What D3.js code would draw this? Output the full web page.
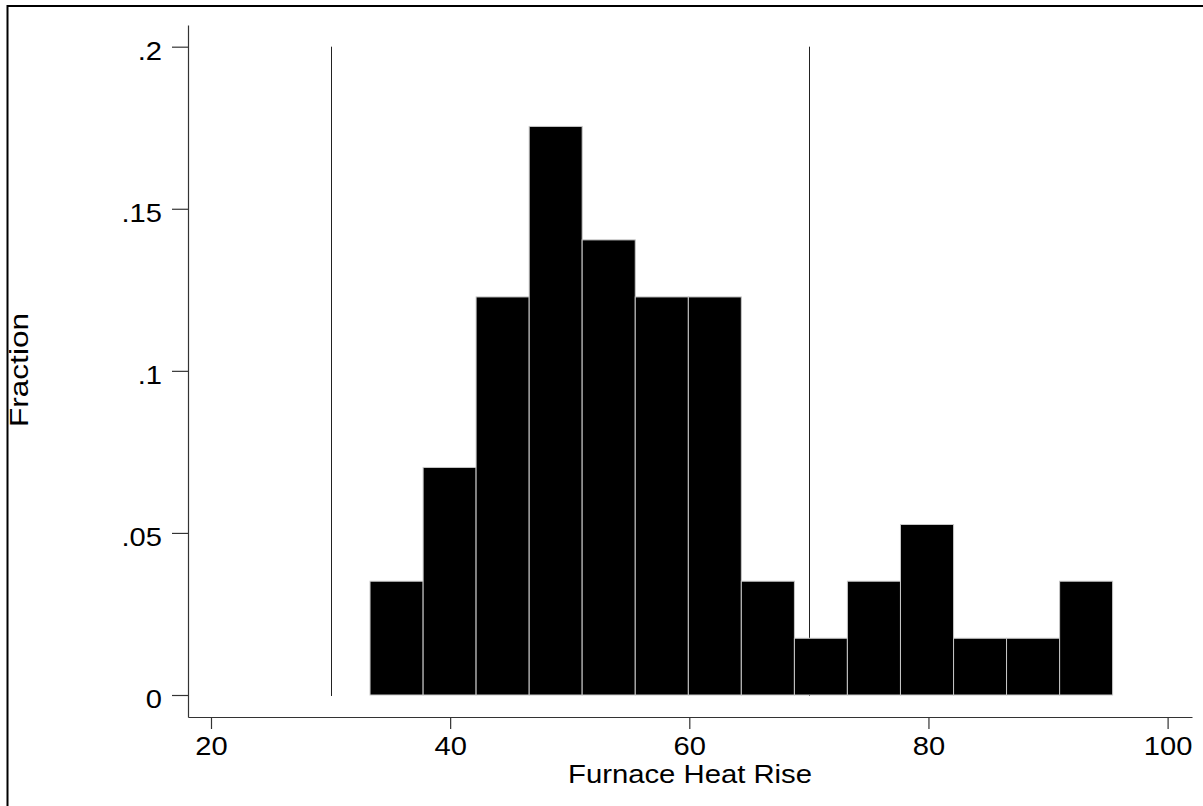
<!DOCTYPE html>
<html>
<head>
<meta charset="utf-8">
<script src="https://cdn.jsdelivr.net/npm/d3@7"></script>
<style>
  html, body { margin: 0; padding: 0; background: #fff; }
  svg { display: block; }
  text { font-family: "Liberation Sans", Arial, Helvetica, sans-serif; fill: #000; }
</style>
</head>
<body>
<svg id="chart" width="1203" height="806"></svg>
<script>
// ---- data ----
const binEdges = [33.3, 37.74, 42.17, 46.61, 51.04, 55.48, 59.92, 64.35, 68.79, 73.22, 77.66, 82.1, 86.53, 90.97, 95.4];
const fractions = [0.0351, 0.0702, 0.1228, 0.1754, 0.1404, 0.1228, 0.1228, 0.0351, 0.0175, 0.0351, 0.0526, 0.0175, 0.0175, 0.0351];
const refLines = [30, 70];
const xTicks = [20, 40, 60, 80, 100];
const yTicks = [0, 0.05, 0.1, 0.15, 0.2];
const yTickLabels = ["0", ".05", ".1", ".15", ".2"];
const xTitle = "Furnace Heat Rise";
const yTitle = "Fraction";

// ---- layout ----
const svg = d3.select("#chart");
const W = 1203, H = 806;
const xs = d3.scaleLinear().domain([18.077, 102.04]).range([188, 1192]);
const ys = d3.scaleLinear().domain([-0.006787, 0.20669]).range([717, 25]);
const FS = 26, STRETCH = 1.12;

// outer frame (partly off-canvas right/bottom)
svg.append("rect").attr("x", 7.5).attr("y", 6).attr("width", 1300).attr("height", 900)
  .attr("fill", "none").attr("stroke", "#000").attr("stroke-width", 2);

// reference lines (behind bars)
svg.append("g").selectAll("line").data(refLines).join("line")
  .attr("x1", d => Math.round(xs(d)) + 0.5).attr("x2", d => Math.round(xs(d)) + 0.5)
  .attr("y1", ys(0.2)).attr("y2", ys(0) + 1)
  .attr("stroke", "#222").attr("stroke-width", 1);

// bars
const bins = fractions.map((f, i) => ({ x0: binEdges[i], x1: binEdges[i + 1], f }));
svg.append("g").selectAll("rect").data(bins).join("rect")
  .attr("x", d => xs(d.x0)).attr("width", d => xs(d.x1) - xs(d.x0))
  .attr("y", d => ys(d.f)).attr("height", d => ys(0) - ys(d.f))
  .attr("fill", "#000").attr("stroke", "#c8c8c8").attr("stroke-width", 1);

// axes
const xAxis = d3.axisBottom(xs).tickValues(xTicks).tickFormat(d3.format("d"))
  .tickSizeInner(12).tickSizeOuter(0).tickPadding(8);
const yAxis = d3.axisLeft(ys).tickValues(yTicks).tickFormat((d, i) => yTickLabels[i])
  .tickSizeInner(16).tickSizeOuter(0).tickPadding(10);

const gx = svg.append("g").attr("transform", "translate(0,717)").call(xAxis);
const gy = svg.append("g").attr("transform", "translate(188,0)").call(yAxis);

[gx, gy].forEach(g => {
  g.select(".domain").attr("stroke", "#333").attr("stroke-width", 1.2);
  g.selectAll(".tick line").attr("stroke", "#333").attr("stroke-width", 1.2);
  g.selectAll(".tick text").attr("font-size", FS)
    .attr("font-family", "'Liberation Sans', Arial, sans-serif").attr("fill", "#000");
});
gy.selectAll(".tick text").attr("dy", "0.5em");

function stretch(sel) {
  sel.each(function () {
    const len = this.getComputedTextLength();
    d3.select(this).attr("textLength", len * STRETCH).attr("lengthAdjust", "spacingAndGlyphs");
  });
}
stretch(gx.selectAll(".tick text"));
stretch(gy.selectAll(".tick text"));

// titles
const tx = svg.append("text").attr("x", 690).attr("y", 783)
  .attr("text-anchor", "middle").attr("font-size", FS).text(xTitle);
tx.attr("textLength", 244).attr("lengthAdjust", "spacingAndGlyphs");

const ty = svg.append("text").attr("transform", "translate(28,370) rotate(-90)")
  .attr("text-anchor", "middle").attr("font-size", FS).text(yTitle);
ty.attr("textLength", 114).attr("lengthAdjust", "spacingAndGlyphs");
</script>
</body>
</html>
